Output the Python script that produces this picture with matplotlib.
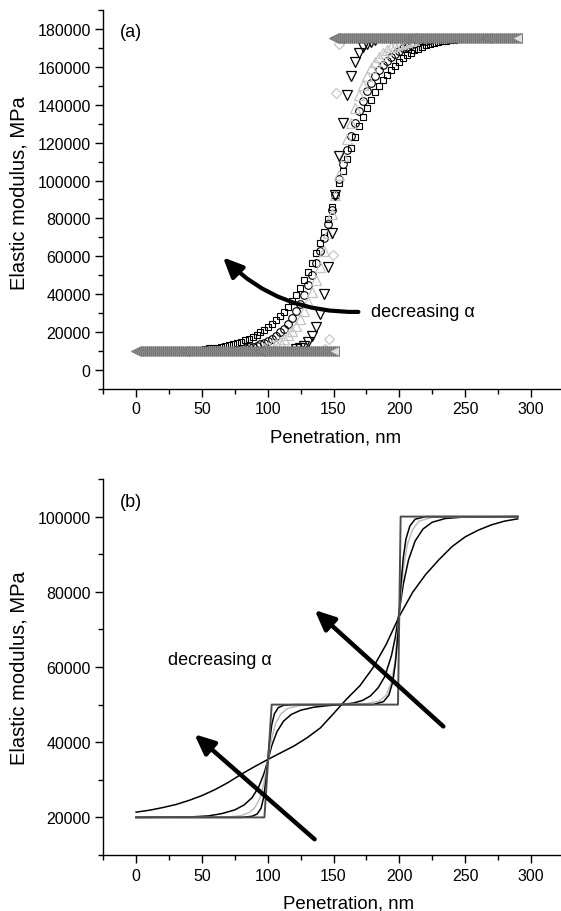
import numpy as np
import matplotlib
matplotlib.use("Agg")
import matplotlib.pyplot as plt
from matplotlib.patches import FancyArrowPatch
from matplotlib.ticker import MultipleLocator

plt.rcParams['font.family'] = ['Liberation Sans', 'DejaVu Sans']

# ---------------- panel (a) data ----------------
# step (left triangles): two plateaus
step_low_x = np.arange(0, 150.1, 1.5)
step_low_E = 10000
step_high_x = np.arange(150, 290.1, 1.5)
step_high_E = 175000

sq_x = np.arange(52.5, 245, 3)
sq_y = [11200, 11400, 11600, 11800, 12100, 12500, 13000, 13600, 14200, 14900,
        15700, 16600, 17600, 18700, 19900, 21300, 22800, 24500, 26400, 28500,
        30800, 33400, 36400, 39700, 43400, 47400, 51800, 56500, 61500, 66800,
        73000, 79600, 86000, 92500, 98800, 105000, 111200, 117200, 123000, 128500,
        133600, 138300, 142600, 146500, 150000, 153100, 155900, 158400, 160600, 162600,
        164400, 166000, 167400, 168600, 169600, 170500, 171300, 171900, 172500, 173000,
        173400, 173800, 174100, 174400, 174700]

ci_x = np.arange(82.5, 224, 3)
ci_y = [11600, 12000, 12400, 12900, 13600, 14400, 15400, 16600, 18000, 19800,
        21900, 24400, 27400, 30900, 35000, 39600, 44700, 50300, 56300, 62700,
        69400, 76900, 84600, 92500, 100600, 108500, 116300, 123600, 130400, 136600,
        142100, 147000, 151300, 155000, 158200, 160900, 163300, 165300, 167000, 168500,
        169700, 170700, 171600, 172300, 172900, 173400, 173800, 174100]

tu_x = np.arange(97.5, 212, 3)
tu_y = [11800, 12300, 13000, 13900, 15000, 16500, 18300, 20600, 23400, 26800,
        30900, 35700, 41200, 47500, 54600, 62800, 72300, 82300, 92500, 102700,
        112700, 122000, 130600, 138200, 145000, 150600, 155300, 159300, 162500, 165100,
        167200, 168900, 170200, 171200, 172000, 172700, 173200, 173600, 173900]

td_x = np.arange(121.5, 182, 3)
td_y = [11100, 11800, 12900, 14800, 17800, 22500, 29700, 40100, 54400, 72300,
        92500, 112700, 130600, 145000, 155400, 162500, 167200, 170200, 172100, 173200,
        173900]

di_x = [143.5, 146.3, 149.3, 151.9, 154.4, 157.0]
di_y = [11000, 16500, 60500, 146400, 171800, 174500]

# ---------------- panel (b) data ----------------
b_step_x = [0, 97.5, 103, 199, 201, 290]
b_step_y = [20000, 20000, 50000, 50000, 100000, 100000]

b_n_x = [0, 80, 88, 92, 95, 97, 99, 100, 101, 103, 105, 108, 112, 120, 180, 188, 192, 195,
         197, 199, 200, 201, 203, 205, 208, 212, 220, 290]
b_n_y = [20000, 20000, 20300, 20900, 22500, 25500, 31000, 35000, 39000, 44500, 47500, 49200,
         49800, 50000, 50000, 50800, 52500, 56000, 61000, 69000, 75000, 81000, 89000, 94000,
         97500, 99300, 100000, 100000]

b_g_x = [0, 70, 80, 86, 90, 94, 97, 100, 103, 106, 110, 115, 125, 140, 175, 185, 190, 194,
         197, 200, 203, 206, 210, 215, 225, 290]
b_g_y = [20000, 20100, 20500, 21300, 22500, 25000, 29000, 35000, 41000, 45000, 47500, 49000,
         49800, 50000, 50200, 51000, 52500, 56000, 62000, 75000, 86000, 92500, 96500, 98800,
         99800, 100000]

b_m_x = [0, 40, 55, 65, 75, 82, 88, 93, 97, 100, 103, 107, 112, 118, 125, 135, 145, 155,
         165, 172, 178, 184, 189, 194, 197, 200, 203, 207, 212, 218, 225, 235, 250, 290]
b_m_y = [20000, 20100, 20400, 21000, 22000, 23300, 25200, 28000, 31500, 35000, 39000, 42800,
         45600, 47400, 48500, 49300, 49700, 50000, 50400, 51100, 52300, 54500, 57500, 63000,
         68000, 75000, 82000, 88500, 93500, 96700, 98500, 99500, 99900, 100000]

b_w_x = list(range(0, 291, 10))
b_w_y = [21400, 21900, 22600, 23400, 24500, 25800, 27400, 29300, 31500, 33500,
         35400, 37200, 39000, 41200, 43800, 47600, 51500, 55000, 59800, 66000,
         73500, 79800, 84600, 88500, 92000, 94600, 96400, 97800, 98800, 99400]

xticks = [0, 50, 100, 150, 200, 250, 300]

fig = plt.figure(figsize=(5.61, 9.12), dpi=100)
ax1 = fig.add_axes([0.184, 0.5724, 0.814, 0.4156])
ax2 = fig.add_axes([0.184, 0.0614, 0.814, 0.4123])

FS = 11.5
LFS = 13.4

def style(ax, ylim, ymaj, xlab_x, ylab_y):
    for s in ['top', 'right']:
        ax.spines[s].set_visible(False)
    for s in ['left', 'bottom']:
        ax.spines[s].set_linewidth(1.0)
    ax.set_xlim(-25, 322)
    ax.set_ylim(*ylim)
    ax.set_xticks(xticks)
    ax.xaxis.set_minor_locator(MultipleLocator(25))
    ax.yaxis.set_major_locator(MultipleLocator(ymaj))
    ax.yaxis.set_minor_locator(MultipleLocator(ymaj / 2))
    ax.tick_params(which='major', direction='out', length=6, width=1.0, labelsize=FS, pad=3)
    ax.tick_params(which='minor', direction='out', length=3.5, width=1.0)
    ax.set_xlabel('Penetration, nm', fontsize=LFS)
    ax.set_ylabel('Elastic modulus, MPa', fontsize=14.5)
    ax.xaxis.set_label_coords(xlab_x, -0.105)
    ax.yaxis.set_label_coords(-0.163, ylab_y)

style(ax1, (-10000, 190000), 20000, 0.509, 0.52)
style(ax2, (10000, 110000), 20000, 0.538, 0.5)
ax1.set_yticks(list(range(0, 180001, 20000)))
ax2.set_yticks(list(range(20000, 100001, 20000)))
ax1.set_yticklabels([str(v) for v in range(0, 180001, 20000)])
ax2.set_yticklabels([str(v) for v in range(20000, 100001, 20000)])

# panel (a)
ax1.plot(sq_x, sq_y, ls='none', marker='s', ms=5.0, mfc='none', mec='black', mew=0.8)
ax1.plot(ci_x, ci_y, ls='none', marker='o', ms=5.5, mfc='none', mec='black', mew=0.8)
ax1.plot(tu_x, tu_y, ls='none', marker='^', ms=6.8, mfc='none', mec='#c4c4c4', mew=0.9)
ax1.plot(td_x, td_y, ls='none', marker='v', ms=7.0, mfc='none', mec='black', mew=0.9)
ax1.plot(di_x, di_y, ls='none', marker='D', ms=5.2, mfc='none', mec='#c8c8c8', mew=0.9)
ax1.plot(step_low_x, np.full(len(step_low_x), step_low_E), ls='none', marker='<', ms=6.8,
         mfc='#e0e0e0', mec='#666666', mew=0.6, zorder=5)
ax1.plot(step_high_x, np.full(len(step_high_x), step_high_E), ls='none', marker='<', ms=6.8,
         mfc='#e0e0e0', mec='#666666', mew=0.6, zorder=5)

arr = FancyArrowPatch(posA=(171, 30700), posB=(64.5, 60500),
                      connectionstyle='arc3,rad=-0.22',
                      arrowstyle='-|>,head_length=1.0,head_width=0.45',
                      mutation_scale=12, lw=3.0, color='black', zorder=6)
ax1.add_patch(arr)
ax1.text(178.5, 30700, 'decreasing α', fontsize=13, va='center', ha='left')
ax1.text(0.037, 0.942, '(a)', transform=ax1.transAxes, fontsize=13, va='center', ha='left')

# panel (b)
ax2.plot(b_w_x, b_w_y, color='black', lw=1.1)
ax2.plot(b_m_x, b_m_y, color='black', lw=1.1)
ax2.plot(b_g_x, b_g_y, color='#bdbdbd', lw=1.1)
ax2.plot(b_n_x, b_n_y, color='black', lw=1.1)
ax2.plot(b_step_x, b_step_y, color='#4d4d4d', lw=1.4)

for (ta, hb) in [((137.2, 13700), (42.7, 42600)), ((235, 43700), (134.1, 75650))]:
    a = FancyArrowPatch(posA=ta, posB=hb, arrowstyle='-|>,head_length=1.0,head_width=0.45',
                        mutation_scale=12, lw=3.2, color='black', zorder=6)
    ax2.add_patch(a)
ax2.text(24, 62100, 'decreasing α', fontsize=13, va='center', ha='left')
ax2.text(0.037, 0.939, '(b)', transform=ax2.transAxes, fontsize=13, va='center', ha='left')

fig.savefig('out.png', dpi=100)
